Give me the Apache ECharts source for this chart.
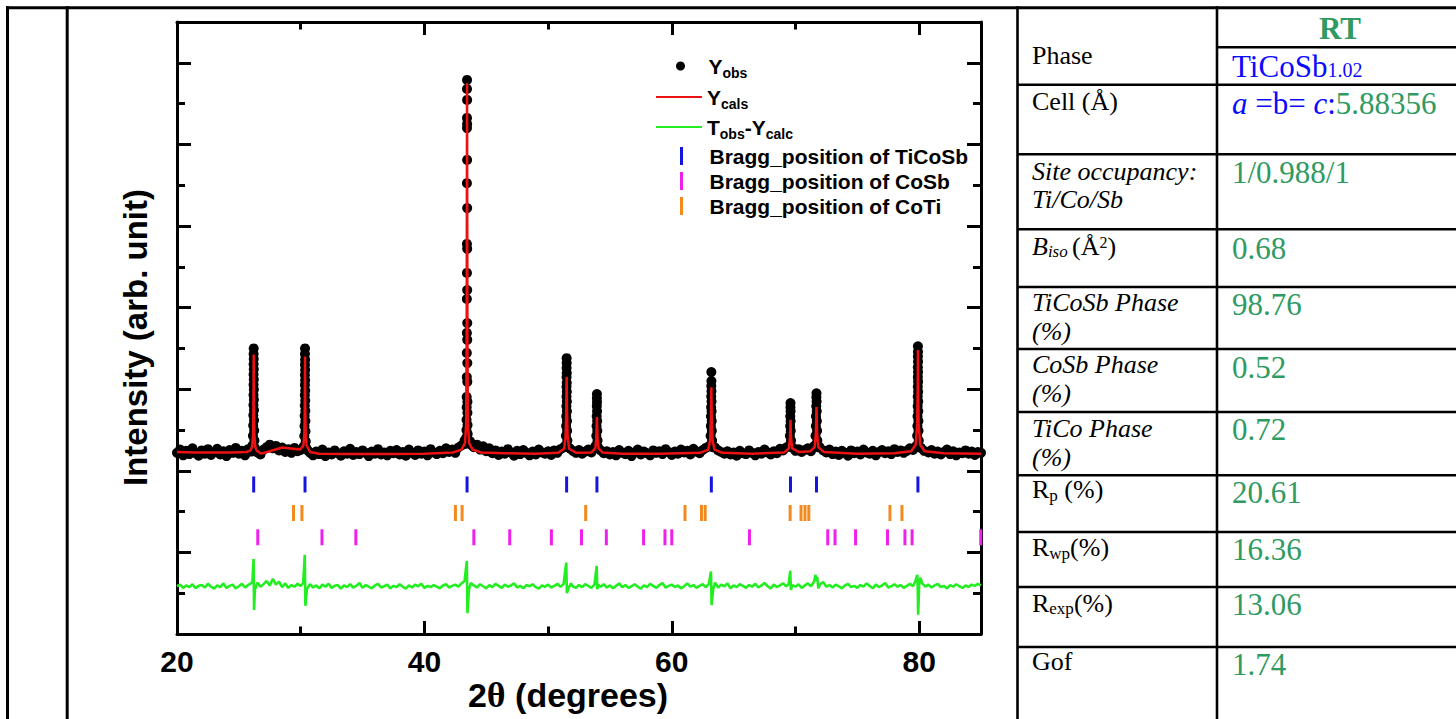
<!DOCTYPE html>
<html><head><meta charset="utf-8">
<script src="https://cdn.jsdelivr.net/npm/echarts@6/dist/echarts.min.js"></script>
<style>html,body{margin:0;padding:0;background:#fff;}#c{width:1456px;height:719px;}</style>
</head><body><div id="c"></div>
<script>
// ---------------- DATA ----------------
// Observed intensity (background band) [2theta, intensity]
const obsBackground = [
[20.00,4.44],[20.25,4.52],[20.50,4.38],[20.75,4.49],[21.00,4.41],[21.25,4.55],[21.50,4.43],[21.75,4.37],
[22.00,4.50],[22.25,4.42],[22.50,4.53],[22.75,4.39],[23.00,4.46],[23.25,4.54],[23.50,4.40],[23.75,4.48],
[24.00,4.36],[24.25,4.51],[24.50,4.44],[24.75,4.56],[25.00,4.42],[25.25,4.49],[25.50,4.38],[25.75,4.53],
[26.00,4.47],[26.50,4.45],[26.75,4.40],[27.00,4.52],[27.25,4.58],[27.50,4.64],[27.75,4.55],
[28.00,4.61],[28.25,4.50],[28.50,4.57],[28.75,4.46],[29.00,4.53],[29.25,4.44],[29.50,4.56],[29.75,4.48],
[30.00,4.51],[30.60,4.49],[30.80,4.43],[31.00,4.38],[31.25,4.47],[31.50,4.41],[31.75,4.52],
[32.00,4.36],[32.25,4.45],[32.50,4.40],[32.75,4.50],[33.00,4.43],[33.25,4.37],[33.50,4.48],[33.75,4.42],
[34.00,4.54],[34.25,4.39],[34.50,4.46],[34.75,4.41],[35.00,4.50],[35.25,4.44],[35.50,4.36],[35.75,4.47],
[36.00,4.42],[36.25,4.53],[36.50,4.40],[36.75,4.45],[37.00,4.38],[37.25,4.49],[37.50,4.43],[37.75,4.51],
[38.00,4.40],[38.25,4.46],[38.50,4.37],[38.75,4.52],[39.00,4.44],[39.25,4.39],[39.50,4.50],[39.75,4.42],
[40.00,4.47],[40.25,4.38],[40.50,4.53],[40.75,4.45],[41.00,4.41],[41.25,4.49],[41.50,4.43],[41.75,4.55],
[42.00,4.46],[42.25,4.52],[42.50,4.44],[42.75,4.57],[43.00,4.62],[43.25,4.74],[43.70,4.72],[43.85,4.62],
[44.00,4.58],[44.25,4.64],[44.50,4.52],[44.75,4.60],[45.00,4.48],[45.25,4.55],[45.50,4.43],[45.75,4.50],
[46.00,4.39],[46.25,4.47],[46.50,4.42],[46.75,4.53],[47.00,4.45],[47.25,4.37],[47.50,4.49],[47.75,4.41],
[48.00,4.51],[48.25,4.44],[48.50,4.38],[48.75,4.47],[49.00,4.40],[49.25,4.52],[49.50,4.45],[49.75,4.42],
[50.00,4.48],[50.25,4.39],[50.50,4.50],[50.75,4.44],[51.00,4.53],[51.25,4.57],[51.75,4.55],
[52.00,4.49],[52.25,4.44],[52.50,4.51],[52.75,4.42],[53.00,4.47],[53.25,4.52],[53.50,4.45],[53.75,4.56],
[54.25,4.50],[54.50,4.43],[54.75,4.48],[55.00,4.40],[55.25,4.46],[55.50,4.38],[55.75,4.51],
[56.00,4.44],[56.25,4.41],[56.50,4.49],[56.75,4.36],[57.00,4.45],[57.25,4.52],[57.50,4.40],[57.75,4.47],
[58.00,4.43],[58.25,4.38],[58.50,4.50],[58.75,4.44],[59.00,4.48],[59.25,4.41],[59.50,4.53],[59.75,4.46],
[60.00,4.39],[60.25,4.47],[60.50,4.42],[60.75,4.52],[61.00,4.45],[61.25,4.49],[61.50,4.40],[61.75,4.54],
[62.00,4.47],[62.25,4.43],[62.50,4.51],[62.75,4.56],[63.00,4.60],[63.50,4.57],[63.75,4.50],
[64.00,4.46],[64.25,4.42],[64.50,4.48],[64.75,4.40],[65.00,4.45],[65.25,4.37],[65.50,4.49],[65.75,4.43],
[66.00,4.41],[66.25,4.50],[66.50,4.44],[66.75,4.38],[67.00,4.46],[67.25,4.42],[67.50,4.52],[67.75,4.45],
[68.00,4.40],[68.25,4.48],[68.50,4.43],[68.75,4.54],[69.00,4.50],[69.25,4.57],[69.80,4.56],
[70.00,4.49],[70.25,4.53],[70.50,4.46],[70.75,4.51],[71.00,4.55],[71.25,4.48],[71.50,4.60],
[71.95,4.58],[72.25,4.50],[72.50,4.45],[72.75,4.52],[73.00,4.41],[73.25,4.47],[73.50,4.39],[73.75,4.49],
[74.00,4.44],[74.25,4.37],[74.50,4.50],[74.75,4.43],[75.00,4.47],[75.25,4.40],[75.50,4.52],[75.75,4.45],
[76.00,4.42],[76.25,4.49],[76.50,4.38],[76.75,4.46],[77.00,4.51],[77.25,4.43],[77.50,4.48],[77.75,4.41],
[78.00,4.53],[78.25,4.46],[78.50,4.50],[78.75,4.44],[79.00,4.49],[79.25,4.55],[79.50,4.51],[79.70,4.58],
[80.15,4.56],[80.40,4.49],[80.75,4.45],[81.00,4.51],[81.25,4.42],[81.50,4.47],[81.75,4.40],
[82.00,4.46],[82.25,4.52],[82.50,4.41],[82.75,4.48],[83.00,4.38],[83.25,4.45],[83.50,4.43],[83.75,4.50],
[84.00,4.42],[84.25,4.47],[84.50,4.39],[84.75,4.46],[85.00,4.44]
];
// Observed intensity on the Bragg peaks [2theta, intensity]
const obsPeaks = [
[26.10,4.62],[26.14,4.86],[26.16,5.11],[26.17,5.36],[26.18,5.61],[26.185,5.86],[26.19,6.11],[26.19,6.36],[26.195,6.61],[26.195,6.86],[26.20,7.00],
[26.205,6.74],[26.21,6.49],[26.21,6.24],[26.215,5.99],[26.22,5.74],[26.225,5.49],[26.23,5.24],[26.24,4.99],[26.26,4.74],[26.30,4.56],
[30.25,4.60],[30.29,4.85],[30.31,5.10],[30.32,5.35],[30.33,5.60],[30.335,5.85],[30.34,6.10],[30.34,6.35],[30.345,6.60],[30.345,6.86],[30.35,7.00],
[30.355,6.72],[30.36,6.47],[30.36,6.22],[30.365,5.97],[30.37,5.72],[30.375,5.47],[30.38,5.22],[30.39,4.97],[30.41,4.72],[30.45,4.56],
[43.45,13.58],[43.445,13.36],[43.455,13.09],[43.445,12.65],[43.455,12.50],[43.445,12.40],[43.455,11.62],[43.44,11.05],[43.46,10.44],
[43.44,9.56],[43.46,9.44],[43.44,8.85],[43.46,8.43],[43.435,8.21],[43.465,7.62],[43.435,7.38],[43.465,7.21],[43.43,6.89],[43.47,6.64],
[43.43,6.30],[43.47,6.18],[43.42,5.81],[43.48,5.69],[43.42,5.56],[43.48,5.42],[43.41,5.25],[43.49,5.12],[43.40,5.00],[43.50,4.90],
[43.37,4.80],[43.54,4.70],[43.33,4.66],
[51.40,4.62],[51.44,4.86],[51.46,5.10],[51.47,5.34],[51.48,5.58],[51.49,5.82],[51.49,6.06],[51.495,6.30],[51.495,6.52],[51.50,6.76],
[51.505,6.64],[51.51,6.40],[51.51,6.16],[51.515,5.94],[51.52,5.70],[51.525,5.46],[51.53,5.22],[51.54,4.98],[51.56,4.74],[51.60,4.58],
[53.86,4.62],[53.90,4.86],[53.92,5.10],[53.93,5.34],[53.94,5.58],[53.945,5.78],[53.95,5.88],[53.955,5.68],[53.96,5.46],[53.97,5.22],[53.98,4.98],[54.00,4.74],[54.04,4.58],
[63.10,4.62],[63.14,4.86],[63.16,5.10],[63.17,5.34],[63.18,5.56],[63.19,5.82],[63.195,6.08],[63.20,6.42],[63.205,6.20],[63.21,5.95],[63.215,5.70],[63.22,5.46],[63.23,5.22],[63.24,4.98],[63.26,4.74],[63.30,4.58],
[69.51,4.62],[69.55,4.86],[69.57,5.10],[69.58,5.34],[69.595,5.56],[69.60,5.66],[69.605,5.46],[69.61,5.22],[69.62,4.98],[69.64,4.74],[69.68,4.58],
[71.58,4.62],[71.62,4.86],[71.65,5.10],[71.66,5.34],[71.68,5.58],[71.69,5.80],[71.70,5.90],[71.71,5.70],[71.72,5.46],[71.73,5.22],[71.75,4.98],[71.77,4.74],[71.81,4.58],
[79.80,4.62],[79.84,4.86],[79.86,5.10],[79.87,5.34],[79.88,5.58],[79.885,5.82],[79.89,6.06],[79.895,6.30],[79.895,6.54],[79.90,6.80],[79.90,7.05],
[79.905,6.92],[79.91,6.67],[79.91,6.42],[79.915,6.18],[79.92,5.94],[79.925,5.70],[79.93,5.46],[79.94,5.22],[79.95,4.98],[79.97,4.74],[80.01,4.58]
];
// Calculated profile [2theta, intensity]
const yCalc = [
[20.0,4.46],[21.5,4.45],[23.0,4.45],[24.5,4.45],[25.6,4.46],[25.95,4.50],[26.08,4.60],[26.15,4.90],[26.18,5.60],[26.20,6.85],[26.22,5.60],[26.25,4.90],[26.32,4.60],[26.45,4.49],
[26.8,4.42],[27.5,4.48],[28.5,4.57],[29.4,4.54],[29.95,4.52],[30.22,4.62],[30.30,4.92],[30.33,5.60],[30.35,6.80],[30.37,5.60],[30.40,4.92],[30.48,4.62],[30.75,4.46],
[31.5,4.42],[34.0,4.41],[37.0,4.41],[40.0,4.42],[42.3,4.45],[43.0,4.52],[43.28,4.68],[43.38,5.15],[43.42,7.40],[43.45,13.50],[43.48,7.40],[43.52,5.15],[43.62,4.68],[43.9,4.52],
[44.6,4.45],[46.5,4.43],[49.0,4.42],[50.8,4.44],[51.30,4.54],[51.42,4.85],[51.47,5.50],[51.50,6.30],[51.53,5.50],[51.58,4.85],[51.70,4.54],[52.3,4.44],
[53.5,4.45],[53.82,4.55],[53.90,4.80],[53.95,5.32],[54.00,4.80],[54.08,4.55],[54.4,4.45],[56.0,4.42],[59.0,4.42],[62.3,4.44],
[62.95,4.52],[63.10,4.75],[63.17,5.35],[63.20,6.05],[63.23,5.35],[63.30,4.75],[63.45,4.52],[64.1,4.44],[66.5,4.42],
[69.1,4.45],[69.47,4.55],[69.56,4.82],[69.60,5.25],[69.64,4.82],[69.73,4.55],[70.3,4.46],[71.2,4.48],[71.55,4.58],[71.65,4.92],[71.70,5.56],[71.75,4.92],[71.85,4.58],[72.3,4.46],
[75.0,4.42],[78.0,4.43],[79.35,4.48],[79.72,4.64],[79.84,5.15],[79.88,6.00],[79.90,6.96],[79.92,6.00],[79.96,5.15],[80.08,4.64],[80.45,4.48],[82.0,4.43],[85.0,4.42]
];
// Difference curve [2theta, value]
const yDiff = [
[20.00,1.17],[20.25,1.21],[20.50,1.13],[20.75,1.19],[21.00,1.15],[21.25,1.22],[21.50,1.12],[21.75,1.18],
[22.00,1.20],[22.25,1.14],[22.50,1.23],[22.75,1.16],[23.00,1.11],[23.25,1.19],[23.50,1.15],[23.75,1.24],
[24.00,1.13],[24.25,1.18],[24.50,1.21],[24.75,1.12],[25.00,1.17],[25.25,1.23],[25.50,1.14],[25.75,1.20],
[26.00,1.25],[26.10,1.28],[26.19,1.84],[26.23,0.59],[26.30,1.08],[26.50,1.26],[26.75,1.16],
[27.00,1.22],[27.25,1.30],[27.50,1.19],[27.75,1.35],[28.00,1.21],[28.25,1.28],[28.50,1.15],[28.75,1.24],
[29.00,1.13],[29.25,1.20],[29.50,1.16],[29.75,1.23],[30.00,1.18],[30.20,1.25],[30.33,1.94],[30.38,0.69],[30.50,1.10],[30.75,1.22],
[31.00,1.14],[31.25,1.19],[31.50,1.12],[31.75,1.21],[32.00,1.16],[32.25,1.23],[32.50,1.13],[32.75,1.18],
[33.00,1.20],[33.25,1.11],[33.50,1.19],[33.75,1.15],[34.00,1.22],[34.25,1.14],[34.50,1.18],[34.75,1.25],
[35.00,1.13],[35.25,1.20],[35.50,1.16],[35.75,1.12],[36.00,1.19],[36.25,1.23],[36.50,1.14],[36.75,1.17],
[37.00,1.21],[37.25,1.12],[37.50,1.18],[37.75,1.15],[38.00,1.22],[38.25,1.16],[38.50,1.11],[38.75,1.19],
[39.00,1.14],[39.25,1.21],[39.50,1.17],[39.75,1.23],[40.00,1.13],[40.25,1.18],[40.50,1.15],[40.75,1.20],
[41.00,1.16],[41.25,1.12],[41.50,1.19],[41.75,1.22],[42.00,1.14],[42.25,1.18],[42.50,1.21],[42.75,1.16],
[43.00,1.24],[43.25,1.30],[43.43,1.79],[43.48,0.51],[43.60,1.08],[43.75,1.25],
[44.00,1.19],[44.25,1.14],[44.50,1.22],[44.75,1.17],[45.00,1.12],[45.25,1.20],[45.50,1.15],[45.75,1.23],
[46.00,1.18],[46.25,1.13],[46.50,1.21],[46.75,1.16],[47.00,1.19],[47.25,1.24],[47.50,1.14],[47.75,1.18],
[48.00,1.12],[48.25,1.20],[48.50,1.17],[48.75,1.22],[49.00,1.15],[49.25,1.11],[49.50,1.19],[49.75,1.16],
[50.00,1.21],[50.25,1.14],[50.50,1.18],[50.75,1.23],[51.00,1.16],[51.25,1.22],[51.47,1.75],[51.52,1.00],[51.65,1.12],[51.85,1.24],
[52.00,1.17],[52.25,1.13],[52.50,1.20],[52.75,1.15],[53.00,1.22],[53.25,1.18],[53.50,1.13],[53.75,1.21],
[53.93,1.67],[53.98,1.10],[54.10,1.20],[54.25,1.16],[54.50,1.22],[54.75,1.14],
[55.00,1.19],[55.25,1.12],[55.50,1.18],[55.75,1.24],[56.00,1.15],[56.25,1.20],[56.50,1.13],[56.75,1.17],
[57.00,1.22],[57.25,1.16],[57.50,1.11],[57.75,1.19],[58.00,1.15],[58.25,1.23],[58.50,1.18],[58.75,1.13],
[59.00,1.20],[59.25,1.25],[59.50,1.14],[59.75,1.18],[60.00,1.21],[60.25,1.15],[60.50,1.19],[60.75,1.12],
[61.00,1.17],[61.25,1.24],[61.50,1.16],[61.75,1.20],[62.00,1.13],[62.25,1.18],[62.50,1.22],[62.75,1.15],
[63.00,1.23],[63.17,1.53],[63.22,0.71],[63.35,1.10],[63.50,1.26],[63.75,1.14],
[64.00,1.21],[64.25,1.17],[64.50,1.24],[64.75,1.12],[65.00,1.19],[65.25,1.15],[65.50,1.22],[65.75,1.18],
[66.00,1.13],[66.25,1.20],[66.50,1.16],[66.75,1.23],[67.00,1.14],[67.25,1.19],[67.50,1.25],[67.75,1.17],
[68.00,1.12],[68.25,1.21],[68.50,1.15],[68.75,1.19],[69.00,1.24],[69.25,1.17],[69.45,1.22],[69.58,1.55],[69.63,1.08],[69.75,1.20],
[70.00,1.16],[70.25,1.22],[70.50,1.13],[70.75,1.19],[71.00,1.24],[71.25,1.17],[71.50,1.28],[71.62,1.45],[71.70,1.30],[71.76,1.40],[71.85,1.12],[72.00,1.22],[72.25,1.27],
[72.50,1.16],[72.75,1.20],[73.00,1.14],[73.25,1.21],[73.50,1.17],[73.75,1.12],
[74.00,1.19],[74.25,1.23],[74.50,1.15],[74.75,1.18],[75.00,1.13],[75.25,1.20],[75.50,1.16],[75.75,1.24],
[76.00,1.18],[76.25,1.12],[76.50,1.21],[76.75,1.15],[77.00,1.19],[77.25,1.25],[77.50,1.14],[77.75,1.17],
[78.00,1.22],[78.25,1.16],[78.50,1.20],[78.75,1.13],[79.00,1.18],[79.25,1.23],[79.50,1.17],[79.70,1.30],
[79.85,1.45],[79.88,1.22],[79.92,0.47],[80.00,1.20],[80.10,1.38],[80.25,1.24],[80.50,1.16],[80.75,1.21],
[81.00,1.14],[81.25,1.19],[81.50,1.23],[81.75,1.15],[82.00,1.18],[82.25,1.12],[82.50,1.20],[82.75,1.16],
[83.00,1.22],[83.25,1.17],[83.50,1.13],[83.75,1.19],[84.00,1.15],[84.25,1.21],[84.50,1.18],[84.75,1.23],[85.00,1.19]
];
// Bragg reflection positions (2theta)
const braggTiCoSb = [26.20, 30.35, 43.45, 51.50, 53.95, 63.20, 69.60, 71.70, 79.90];
const braggCoSb = [26.53, 31.72, 34.46, 44.00, 46.90, 50.27, 52.70, 54.71, 57.72, 59.45, 60.00, 66.28, 72.61, 73.20, 74.86, 77.44, 78.85, 79.43, 84.98];
const braggCoTi = [29.42, 30.10, 42.51, 43.05, 53.04, 61.07, 62.40, 62.70, 69.57, 70.45, 70.77, 71.08, 77.64, 78.61];
// Axis ticks
const xTickLabels = [20, 40, 60, 80];
// Table content
const tableLabels = [
  '{n|Phase}', '{n|Cell (Å)}', '{i|Site occupancy:}', '{i|Ti/Co/Sb}', '{i|B}{isub|iso }{n|(Å}{sup|2}{n|)}',
  '{i|TiCoSb Phase}', '{i|(%)}', '{i|CoSb Phase}', '{i|(%)}', '{i|TiCo Phase}', '{i|(%)}',
  '{n|R}{sub|p}{n| (%)}', '{n|R}{sub|wp}{n|(%)}', '{n|R}{sub|exp}{n|(%)}', '{n|Gof}'
];
const tableHeader = 'RT';
const tableValues = [
  '{vb|TiCoSb}{vbs|1.02}', '{vbi|a}{vb| =b= }{vbi|c}{vb|:}{vg|5.88356}', '{vg|1/0.988/1}', '{vg|0.68}',
  '{vg|98.76}', '{vg|0.52}', '{vg|0.72}', '{vg|20.61}', '{vg|16.36}', '{vg|13.06}', '{vg|1.74}'
];

// ---------------- LAYOUT / STYLE ----------------
const SERIF = "'Liberation Serif','Times New Roman',Times,serif";
const SANS = "'Liberation Sans',Arial,Helvetica,sans-serif";
const GREEN = '#2f9a62', BLUE = '#0a0aff';
const ROW_TICOSB = 3.665, ROW_COTI = 2.966, ROW_COSB = 2.37;
const labelBaselines = [64, 110.7, 180, 208.3, 255, 311.7, 340.7, 373, 402.5, 437, 466, 498.3, 556.7, 612, 670];
const valueBaselines = [77, 114, 183, 259, 315, 378.3, 440, 503, 560, 615, 675];
const hRows = [84.7, 154.3, 229.3, 287, 349, 412, 475.3, 532, 587, 647];
const vCols = [7.5, 67.2, 1017.5, 1217];

const richTable = {
  n: {fontFamily: SERIF, fontSize: 26, fill: '#000', lineHeight: 30},
  i: {fontFamily: SERIF, fontSize: 26, fontStyle: 'italic', fill: '#000', lineHeight: 30},
  isub: {fontFamily: SERIF, fontSize: 17, fontStyle: 'italic', fill: '#000', lineHeight: 30, padding: [10, 0, 0, 0]},
  sub: {fontFamily: SERIF, fontSize: 17, fill: '#000', lineHeight: 30, padding: [11, 0, 0, 0]},
  sup: {fontFamily: SERIF, fontSize: 16, fill: '#000', lineHeight: 30, padding: [0, 0, 7, 0]},
  vb: {fontFamily: SERIF, fontSize: 31, fill: BLUE, lineHeight: 36},
  vbi: {fontFamily: SERIF, fontSize: 31, fontStyle: 'italic', fill: BLUE, lineHeight: 36},
  vbs: {fontFamily: SERIF, fontSize: 20, fill: BLUE, lineHeight: 36, padding: [7, 0, 0, 0]},
  vg: {fontFamily: SERIF, fontSize: 31, fill: GREEN, lineHeight: 36}
};

const graphics = [];
function gline(x1, y1, x2, y2, w) {
  graphics.push({type: 'line', silent: true, shape: {x1, y1, x2, y2}, style: {stroke: '#000', lineWidth: w}, z: 10});
}
gline(6, 7.8, 1456, 7.8, 3);
vCols.forEach(x => gline(x, 6.3, x, 719, x < 100 ? 3 : 2.6));
gline(1217, 47.3, 1456, 47.3, 2.6);
hRows.forEach(y => gline(1017.5, y, 1456, y, 2.6));
tableLabels.forEach((t, k) => {
  graphics.push({type: 'text', silent: true, z: 10, style: {text: t, x: 1032, y: labelBaselines[k] - 0.3375 * 26,
    align: 'left', verticalAlign: 'middle', rich: richTable, fontFamily: SERIF, fontSize: 26, fill: '#000'}});
});
tableValues.forEach((t, k) => {
  graphics.push({type: 'text', silent: true, z: 10, style: {text: t, x: 1232, y: valueBaselines[k] - 0.3375 * 31,
    align: 'left', verticalAlign: 'middle', rich: richTable, fontFamily: SERIF, fontSize: 31, fill: GREEN}});
});
graphics.push({type: 'text', silent: true, z: 10, style: {text: tableHeader, x: 1340, y: 39 - 0.3375 * 31,
  align: 'center', verticalAlign: 'middle', fontFamily: SERIF, fontSize: 31, fontWeight: 'bold', fill: GREEN}});

const axisLine = {show: true, onZero: false, lineStyle: {color: '#000', width: 3}};
const noLine = {show: false, onZero: false};
function tick(len) { return {show: true, inside: true, length: len, lineStyle: {color: '#000', width: 3}}; }
const X_MIN = 20, X_MAX = 85, Y_MIN = 0, Y_MAX = 15;
const xBase = {type: 'value', min: X_MIN, max: X_MAX, splitLine: {show: false}, axisLabel: {show: false}};
const yBase = {type: 'value', min: Y_MIN, max: Y_MAX, splitLine: {show: false}, axisLabel: {show: false}};

const legendLabels = {
  'Yobs': '{m|Y}{s|obs}',
  'Ycals': '{m|Y}{s|cals}',
  'Tobs-Ycalc': '{m|T}{s|obs}{m|-Y}{s|calc}'
};
const legendBase = {
  orient: 'vertical', left: 656, padding: 0, itemWidth: 46, selectedMode: false,
  itemStyle: {borderWidth: 0},
  formatter: name => legendLabels[name] || name,
  textStyle: {fontFamily: SANS, fontWeight: 'bold', fontSize: 21, color: '#000', lineHeight: 24,
    rich: {
      m: {fontFamily: SANS, fontWeight: 'bold', fontSize: 21, color: '#000', lineHeight: 24},
      s: {fontFamily: SANS, fontWeight: 'bold', fontSize: 14, color: '#000', lineHeight: 24, padding: [14, 0, 0, 0]}
    }}
};

const option = {
  animation: false,
  backgroundColor: '#fff',
  grid: {left: 177, right: 475, top: 22, bottom: 85, containLabel: false, outerBoundsMode: 'none'},
  xAxis: [
    Object.assign({}, xBase, {position: 'bottom', interval: 20, axisLine, axisTick: tick(13),
      axisLabel: {show: true, margin: 12, fontSize: 30, fontWeight: 'bold', fontFamily: SANS, color: '#000',
        showMaxLabel: false, formatter: v => (xTickLabels.indexOf(v) >= 0 ? String(v) : '')},
      name: '{a|2}{t|θ}{a| (degrees)}', nameLocation: 'middle', nameGap: 43, nameMoveOverlap: false,
      nameTextStyle: {fontFamily: SANS, fontSize: 34, fontWeight: 'bold', color: '#000', padding: [0, 22, 0, 0],
        rich: {a: {fontFamily: SANS, fontSize: 34, fontWeight: 'bold', color: '#000'},
               t: {fontFamily: SERIF, fontSize: 36, color: '#000'}}}}),
    Object.assign({}, xBase, {position: 'bottom', interval: 10, axisLine: noLine, axisTick: tick(7.5)}),
    Object.assign({}, xBase, {position: 'top', interval: 20, axisLine, axisTick: tick(13)}),
    Object.assign({}, xBase, {position: 'top', interval: 10, axisLine: noLine, axisTick: tick(7.5)})
  ],
  yAxis: [
    Object.assign({}, yBase, {position: 'left', interval: 2, axisLine, axisTick: tick(14),
      name: 'Intensity (arb. unit)', nameLocation: 'middle', nameRotate: 90, nameGap: 25, nameMoveOverlap: false,
      nameTextStyle: {fontFamily: SANS, fontSize: 33, fontWeight: 'bold', color: '#000', padding: [0, 19, 0, 0]}}),
    Object.assign({}, yBase, {position: 'left', interval: 1, axisLine: noLine, axisTick: tick(8)}),
    Object.assign({}, yBase, {position: 'right', interval: 2, axisLine, axisTick: tick(14)}),
    Object.assign({}, yBase, {position: 'right', interval: 1, axisLine: noLine, axisTick: tick(8)})
  ],
  legend: [
    Object.assign({}, legendBase, {left: 676, top: 52, itemHeight: 9, data: [{name: 'Yobs', icon: 'circle'}]}),
    Object.assign({}, legendBase, {top: 83, itemHeight: 3, itemGap: 2, data: [
      {name: 'Ycals', icon: 'path://M0,0H46V2H0Z'}, {name: 'Tobs-Ycalc', icon: 'path://M0,0H46V2H0Z'}]}),
    Object.assign({}, legendBase, {left: 680, top: 144, itemHeight: 18, itemGap: 1, data: [
      {name: 'Bragg_position of TiCoSb', icon: 'path://M0,0H3V18H0Z'},
      {name: 'Bragg_position of CoSb', icon: 'path://M0,0H3V18H0Z'},
      {name: 'Bragg_position of CoTi', icon: 'path://M0,0H3V18H0Z'}]})
  ],
  graphic: graphics,
  series: [
    {name: 'Yobs', type: 'scatter', data: obsBackground.concat(obsPeaks), symbol: 'circle', symbolSize: 10,
      itemStyle: {color: '#000', opacity: 1}, color: '#000', z: 2},
    {name: 'Ycals', type: 'line', data: yCalc, symbol: 'none', color: '#ee1111',
      lineStyle: {color: '#ee1111', width: 2.5}, itemStyle: {color: '#ee1111'}, z: 3},
    {name: 'Tobs-Ycalc', type: 'line', data: yDiff, symbol: 'none', color: '#22ee22',
      lineStyle: {color: '#22ee22', width: 2.6}, itemStyle: {color: '#22ee22'}, z: 3},
    {name: 'Bragg_position of TiCoSb', type: 'scatter', data: braggTiCoSb.map(x => [x, ROW_TICOSB]),
      symbol: 'rect', symbolSize: [3, 16], itemStyle: {color: '#1414e0', opacity: 1}, color: '#1414e0', clip: false},
    {name: 'Bragg_position of CoSb', type: 'scatter', data: braggCoSb.map(x => [x, ROW_COSB]),
      symbol: 'rect', symbolSize: [3, 16], itemStyle: {color: '#f020ec', opacity: 1}, color: '#f020ec', clip: false},
    {name: 'Bragg_position of CoTi', type: 'scatter', data: braggCoTi.map(x => [x, ROW_COTI]),
      symbol: 'rect', symbolSize: [3, 16], itemStyle: {color: '#f28a1e', opacity: 1}, color: '#f28a1e', clip: false}
  ]
};
const chart = echarts.init(document.getElementById('c'), null, {renderer: 'svg'});
chart.setOption(option);
</script>
</body></html>
